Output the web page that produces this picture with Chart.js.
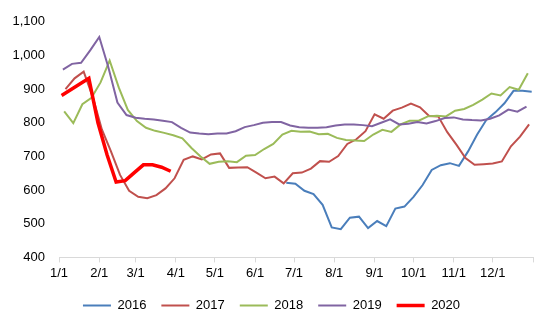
<!DOCTYPE html>
<html>
<head>
<meta charset="utf-8">
<script src="https://cdn.jsdelivr.net/npm/chart.js@4/dist/chart.umd.min.js"></script>
<style>
  html, body { margin: 0; padding: 0; background: #fff; }
  #wrap { width: 550px; height: 326px; }
</style>
</head>
<body>
<div id="wrap"><canvas id="priceChart"></canvas></div>
<script>
// month ticks on the x axis (day of year)
var monthStarts = [0, 31, 59, 90, 120, 151, 181, 212, 243, 273, 304, 334, 365];
var monthLabels = ['1/1', '2/1', '3/1', '4/1', '5/1', '6/1', '7/1', '8/1', '9/1', '10/1', '11/1', '12/1', ''];
var yTicks = [400, 500, 600, 700, 800, 900, 1000, 1100];

// weekly data, first week's day of year for each year
var years = ['2016', '2017', '2018', '2019', '2020'];
var firstDay = [0, 5, 4, 3, 2];

var s2016 = [null, null, null, null, null, null, null, null, null, null,
  null, null, null, null, null, null, null, null, null, null,
  null, null, null, null, null,
  622, 619, 598, 588, 556, 489, 484, 518, 521, 487, 508, 493, 545, 551, 580,
  615, 660, 674, 680, 672, 715, 765, 808, 831, 858, 895, 895, 892];
var s2017 = [900, 932, 952, 877, 780, 715, 645, 598, 580, 576,
  585, 605, 635, 690, 700, 691, 706, 709, 666, 667,
  668, 652, 635, 640, 620, 650, 652, 664, 686, 684,
  701, 737, 751, 775, 825, 812, 836, 845, 857, 846,
  820, 819, 772, 735, 695, 675, 677, 679, 685, 730,
  759, 795];
var s2018 = [834, 799, 855, 874, 920, 985, 905, 838, 805, 785,
  776, 770, 763, 754, 725, 700, 678, 684, 686, 683,
  702, 704, 722, 737, 765, 776, 773, 774, 766, 767,
  755, 749, 747, 746, 765, 779, 773, 795, 806, 806,
  819, 821, 819, 836, 841, 853, 869, 887, 881, 906,
  898, 947];
var s2019 = [958, 975, 978, 1015, 1055, 965, 860, 823, 815, 812,
  810, 806, 802, 785, 771, 768, 766, 768, 768, 775,
  787, 793, 800, 802, 802, 792, 787, 785, 785, 787,
  792, 795, 795, 793, 790, 800, 810, 795, 797, 802,
  798, 805, 814, 816, 810, 808, 807, 812, 822, 839,
  833, 848];
var s2020 = [881, 898, 915, 932, 800, 705, 624, 628, 652, 675, 675, 668, 656];

var series = [s2016, s2017, s2018, s2019, s2020];
var colors = ['#4a7ebb', '#c0504d', '#9bbb59', '#8064a2', '#ff0000'];
var widths = [2, 2, 2, 2, 3.5];

function toPoints(values, start) {
  return values.map(function (v, i) { return { x: start + 7 * i, y: v }; });
}

var datasets = series.map(function (s, k) {
  return {
    label: years[k],
    data: toPoints(s, firstDay[k]),
    borderColor: colors[k],
    backgroundColor: colors[k],
    borderWidth: widths[k],
    pointRadius: 0,
    pointHoverRadius: 0,
    tension: 0,
    fill: false,
    order: series.length - k   // later years drawn on top
  };
});

Chart.defaults.font.family = '"Liberation Sans", Arial, sans-serif';
Chart.defaults.font.size = 13;
Chart.defaults.color = '#000';

var ctx = document.getElementById('priceChart').getContext('2d');
var myChart = new Chart(ctx, {
  type: 'line',
  data: { datasets: datasets },
  options: {
    responsive: true,
    maintainAspectRatio: false,
    animation: false,
    layout: { padding: { top: 17, right: 17, left: 10, bottom: 4 } },
    plugins: {
      tooltip: { enabled: false },
      legend: {
        position: 'bottom',
        labels: {
          usePointStyle: true,
          pointStyle: 'line',
          pointStyleWidth: 28,
          boxHeight: 13,
          padding: 15,
          color: '#000',
          sort: function (a, b) { return a.datasetIndex - b.datasetIndex; }
        }
      }
    },
    scales: {
      x: {
        type: 'linear',
        min: 0,
        max: 365,
        afterBuildTicks: function (scale) {
          scale.ticks = monthStarts.map(function (d) { return { value: d }; });
        },
        ticks: {
          autoSkip: false,
          maxRotation: 0,
          padding: 3,
          callback: function (value) {
            var idx = monthStarts.indexOf(value);
            return idx >= 0 ? monthLabels[idx] : '';
          }
        },
        grid: { drawOnChartArea: false, drawTicks: true, tickLength: 5, color: '#d9d9d9' },
        border: { color: '#d9d9d9', width: 1 }
      },
      y: {
        min: 400,
        max: 1100,
        afterBuildTicks: function (scale) {
          scale.ticks = yTicks.map(function (v) { return { value: v }; });
        },
        afterFit: function (scale) { scale.width = 49; },
        ticks: {
          padding: 14,
          callback: function (value) { return value.toLocaleString('en-US'); }
        },
        grid: { display: false, drawTicks: false },
        border: { display: false }
      }
    }
  }
});
</script>
</body>
</html>
